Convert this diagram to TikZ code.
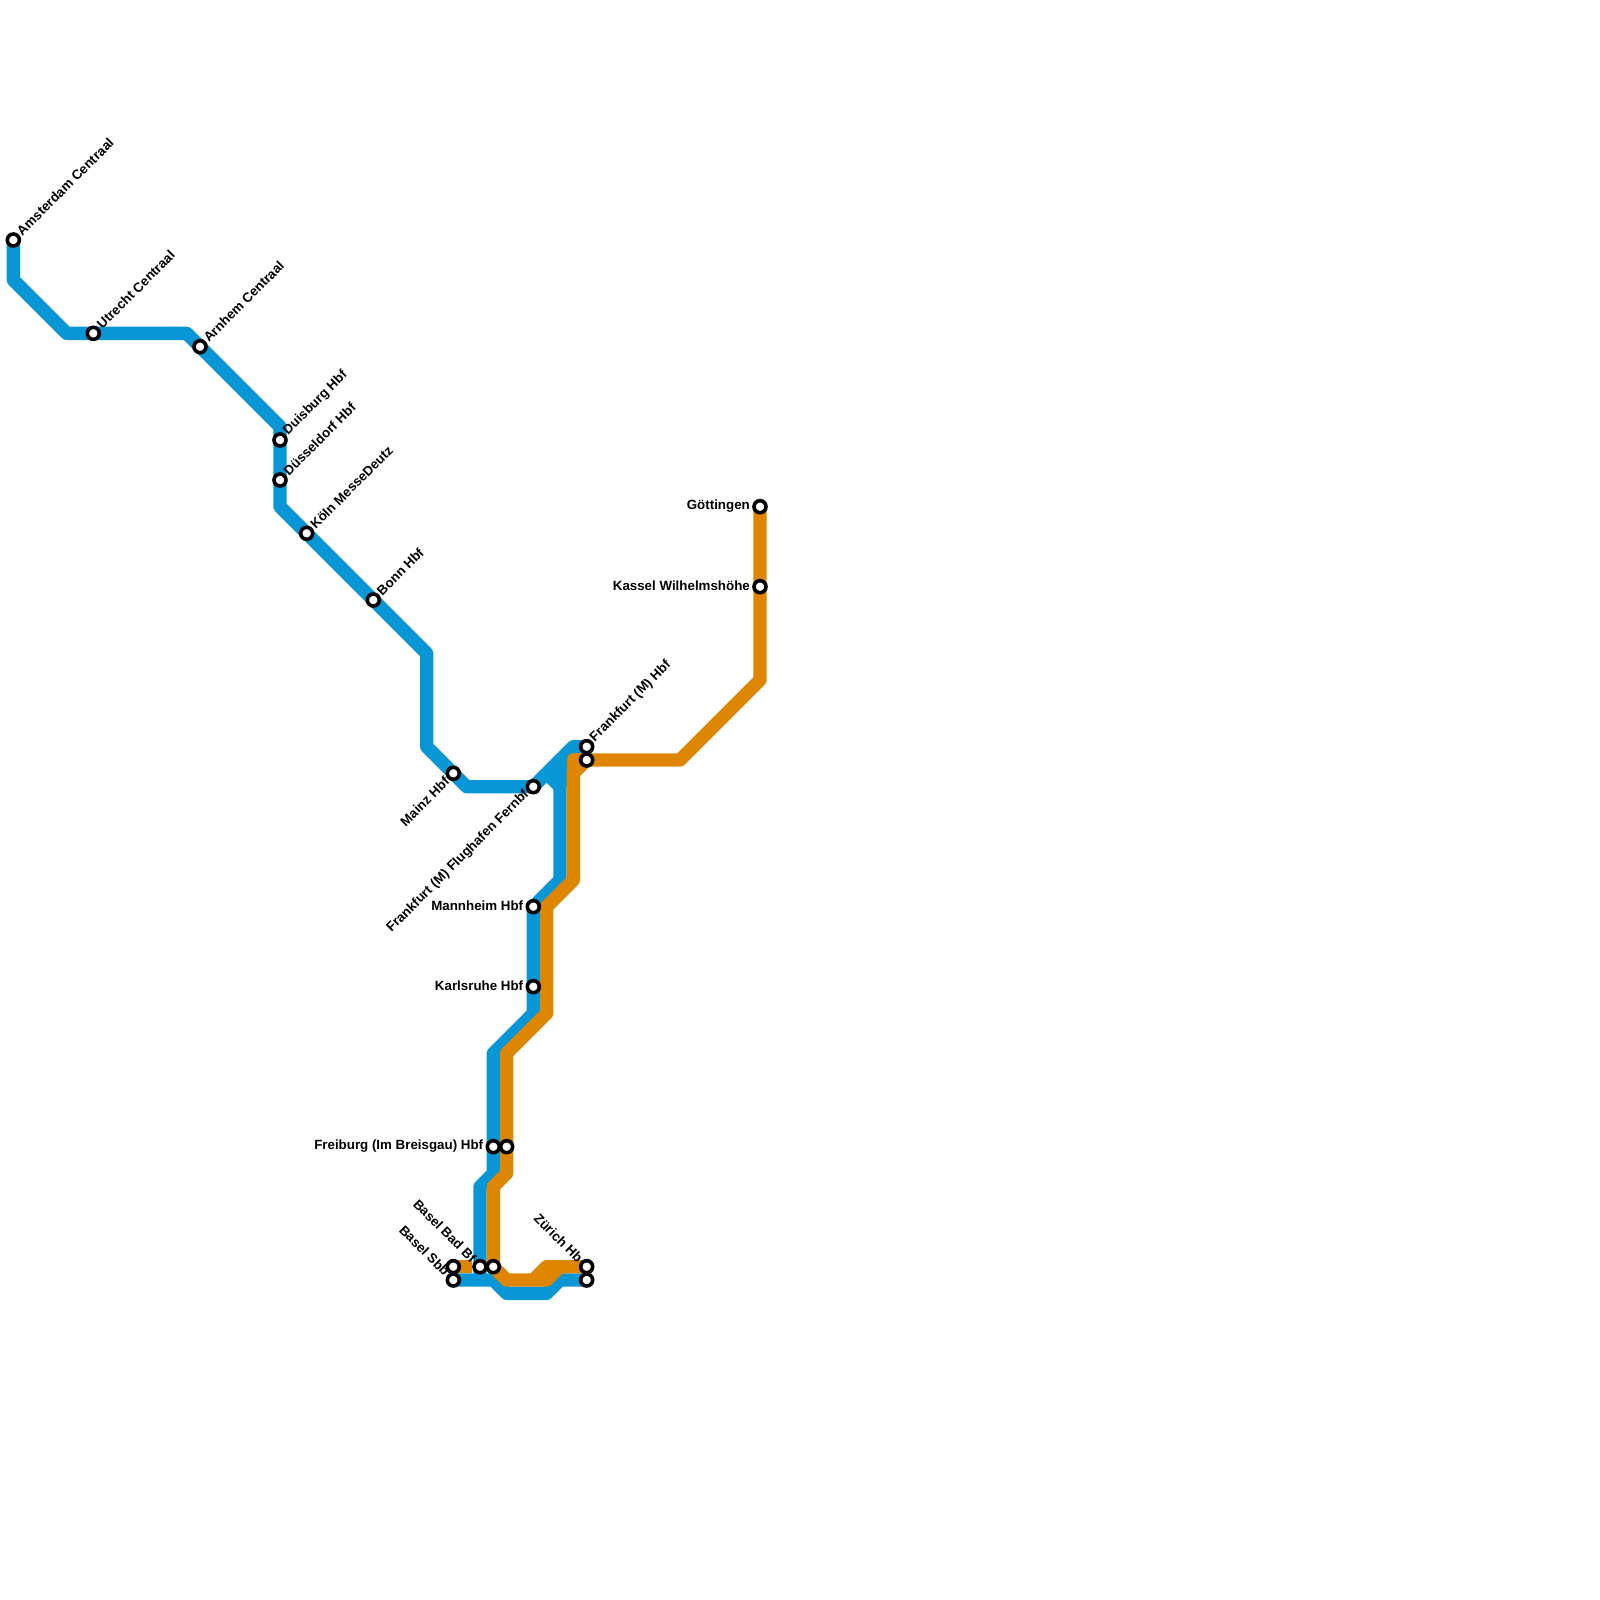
\documentclass[tikz,border=0pt]{standalone}
\usepackage{fontspec}
\usetikzlibrary{calc}
\setmainfont{Liberation Sans}
\definecolor{lineblue}{HTML}{0896D7}
\definecolor{lineorange}{HTML}{DF8600}
\tikzset{
  route/.style={line width=13.333bp,line join=round,line cap=butt},
  blueroute/.style={route,draw=lineblue},
  orangeroute/.style={route,draw=lineorange},
  station/.style={circle,draw=black,fill=white,line width=3.6bp,minimum size=12bp,inner sep=0pt},
  lab/.style={font=\fontsize{13.33bp}{15bp}\selectfont\bfseries,text=black,inner sep=0pt},
  labNE/.style={lab,rotate=45,anchor=west},
  labSW/.style={lab,rotate=45,anchor=east},
  labNW/.style={lab,rotate=-45,anchor=east},
  labW/.style={lab,anchor=east}
}
\begin{document}
\begin{tikzpicture}[x=13.3333bp,y=-13.3333bp]
\useasboundingbox (0,0) rectangle (120,120);
% station positions
\coordinate (ams) at (1,18);
\coordinate (utr) at (7,25);
\coordinate (arn) at (15,26);
\coordinate (dui) at (21,33);
\coordinate (dus) at (21,36);
\coordinate (koe) at (23,40);
\coordinate (bon) at (28,45);
\coordinate (mai) at (34,58);
\coordinate (fly) at (40,59);
\coordinate (fra) at (44,56);
\coordinate (frb) at (44,57);
\coordinate (man) at (40,68);
\coordinate (kar) at (40,74);
\coordinate (fre) at (37,86);
\coordinate (frc) at (38,86);
\coordinate (bad) at (36,95);
\coordinate (bac) at (37,95);
\coordinate (sbo) at (34,95);
\coordinate (sbb) at (34,96);
\coordinate (zuo) at (44,95);
\coordinate (zur) at (44,96);
\coordinate (goe) at (57,38);
\coordinate (kas) at (57,44);
% blue line
\draw[blueroute] (ams) -- (1,21) -- (5,25) -- (utr) -- (14,25) -- (arn) -- (21,32) -- (dui) -- (dus) -- (21,38) -- (koe) -- (bon) -- (32,49) -- (32,56) -- (mai) -- (35,59) -- (fly) -- (43,56) -- (fra);
\draw[blueroute] (41,58) -- (42,59) -- (42,66) -- (man) -- (kar) -- (40,76) -- (37,79) -- (fre) -- (37,88) -- (36,89) -- (bad) -- (36,96);
\draw[blueroute] (42,59) -- (42,57);
\draw[blueroute] (sbb) -- (37,96) -- (38,97) -- (41,97) -- (42,96) -- (zur);
% orange line
\draw[orangeroute] (goe) -- (kas) -- (57,51) -- (51,57) -- (frb) -- (43,58) -- (43,66) -- (41,68) -- (41,76) -- (38,79) -- (frc) -- (38,88) -- (37,89) -- (bac) -- (38,96) -- (40,96) -- (41,95) -- (zuo);
\draw[orangeroute] (frb) -- (43,57) -- (43,58);
\draw[orangeroute] (40,96) -- (41,96) -- (42,95);
\draw[orangeroute] (sbo) -- (35.4,95);
% stations
\foreach \s in {ams,utr,arn,dui,dus,koe,bon,mai,fly,fra,frb,man,kar,fre,frc,bad,bac,sbo,sbb,zuo,zur,goe,kas}
  \node[station] (st\s) at (\s) {};
% labels
\node[labNE] (lams) at ($(ams)+(.42,-.52)$) {Amsterdam Centraal};
\node[labNE] (lutr) at ($(utr)+(.42,-.52)$) {Utrecht Centraal};
\node[labNE] (larn) at ($(arn)+(.42,-.52)$) {Arnhem Centraal};
\node[labNE] (ldui) at ($(dui)+(.42,-.52)$) {Duisburg Hbf};
\node[labNE] (ldus) at ($(dus)+(.42,-.52)$) {Düsseldorf Hbf};
\node[labNE] (lkoe) at ($(koe)+(.42,-.52)$) {Köln MesseDeutz};
\node[labNE] (lbon) at ($(bon)+(.42,-.52)$) {Bonn Hbf};
\node[labNE] (lfra) at ($(fra)+(.42,-.52)$) {Frankfurt (M) Hbf};
\node[labSW] (lmai) at ($(mai)+(-.47,.43)$) {Mainz Hbf};
\node[labSW] (lfly) at ($(fly)+(-.47,.43)$) {Frankfurt (M) Flughafen Fernbf};
\node[labNW] (lbad) at ($(bad)+(-.45,-.5)$) {Basel Bad Bf};
\node[labNW] (lsbb) at ($(sbb)+(-.45,-.5)$) {Basel Sbb};
\node[labNW] (lzur) at ($(zuo)+(-.45,-.5)$) {Zürich Hb};
\node[labW] (lman) at ($(man)+(-.75,-.07)$) {Mannheim Hbf};
\node[labW] (lkar) at ($(kar)+(-.75,-.07)$) {Karlsruhe Hbf};
\node[labW] (lfre) at ($(fre)+(-.75,-.07)$) {Freiburg (Im Breisgau) Hbf};
\node[labW] (lgoe) at ($(goe)+(-.75,-.07)$) {Göttingen};
\node[labW] (lkas) at ($(kas)+(-.75,-.07)$) {Kassel Wilhelmshöhe};
\end{tikzpicture}
\end{document}
